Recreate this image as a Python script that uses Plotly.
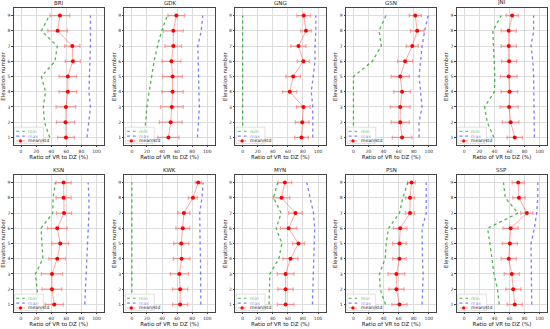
import plotly.graph_objects as go
from plotly.subplots import make_subplots

elevations = [1, 2, 3, 4, 5, 6, 7, 8, 9]
stations = ["BRI", "GDK", "GNG", "GSN", "JNI", "KSN", "KWK", "MYN", "PSN", "SSP"]
x_ticks = [0, 20, 40, 60, 80, 100]

# values listed from elevation 1 to 9
min_BRI = [38, 31, 29.5, 32.5, 27, 45, 48, 27, 37.5]
max_BRI = [87.5, 89.5, 92, 90, 91, 91, 92, 92, 92]
mean_BRI = [59.5, 59, 59.5, 62, 62, 68.7, 68, 48.5, 51.5]
std_BRI = [11, 12, 13, 11.5, 11.5, 10, 10, 13, 13]

min_GDK = [16.5, 18.5, 20, 23, 26, 29.5, 34, 39.5, 47]
max_GDK = [87, 88.5, 89.5, 89, 88.5, 88, 87.5, 92, 94]
mean_GDK = [48.5, 51.5, 53, 54, 54, 52.5, 55, 55, 59]
std_GDK = [14, 15, 15, 14, 13, 12.5, 11, 13, 11]

min_GNG = [0, 0, 0, 0, 0, 0, 0, 0, 0]
max_GNG = [93, 93, 93, 91, 94, 96, 96, 97, 97]
mean_GNG = [78, 79, 80.5, 62.5, 67, 80.5, 74, 84, 81]
std_GNG = [9, 9, 9, 9.5, 9.5, 8, 10, 7, 9]

min_GSN = [0, 0, 0, 0, 0, 25, 37, 34, 43]
max_GSN = [87, 87, 91, 88.5, 87, 89, 91, 94.5, 99]
mean_GSN = [64.5, 62, 62, 64.5, 62, 68.5, 78, 84.5, 82]
std_GSN = [13, 12, 13, 11, 12, 10, 8, 9, 8]

min_JNI = [39.5, 30.5, 27, 40, 40.5, 39.5, 38.5, 38, 49]
max_JNI = [93, 93, 92, 92, 92, 91, 88.5, 92, 92]
mean_JNI = [67, 61.5, 59.5, 60, 59, 59.5, 59, 59, 63.5]
std_JNI = [10, 11, 12, 11, 11, 10, 10, 10, 8]

min_KSN = [23.5, 21, 19, 29, 27.5, 26.5, 42, 42.5, 45.5]
max_KSN = [84.5, 85.5, 86, 87, 88, 89, 90, 90, 89]
mean_KSN = [44, 41, 41, 48, 52, 48, 57, 56.5, 56.5]
std_KSN = [12, 13, 14, 11, 11, 13, 10, 10, 10]

min_KWK = [0, 0, 0, 0, 0, 0, 0, 0, 0]
max_KWK = [91.5, 91.5, 91.5, 91, 90.5, 90, 90, 93, 94.5]
mean_KWK = [64, 64, 63, 66, 65.5, 67.5, 69, 81, 88]
std_KWK = [10, 10, 12, 11, 10, 9, 8, 6, 4]

min_MYN = [35, 35, 36, 48, 52, 44.5, 51, 41, 46.5]
max_MYN = [92.5, 93, 94, 94.5, 95.5, 95.5, 94, 90, 85]
mean_MYN = [57, 57, 57, 63.5, 74, 61, 70, 51.5, 56]
std_MYN = [11, 10, 11, 10, 8, 11, 9, 11, 9]

min_PSN = [42.5, 35.5, 34.5, 42, 43.5, 46.5, 61, 65.5, 72]
max_PSN = [91, 92, 92.5, 91.5, 91, 91, 96.5, 96.5, 96.5]
mean_PSN = [61, 57, 57, 61, 61, 62, 75, 75, 77]
std_PSN = [10, 10, 11, 9, 9, 9, 6, 6, 5]

min_SSP = [46.5, 44, 39.5, 37, 34, 31, 71.5, 54.5, 52]
max_SSP = [89.5, 89.5, 89.5, 88.5, 88.5, 93, 96, 97.5, 97.5]
mean_SSP = [67, 65, 63, 59, 60.5, 61.5, 83, 72.5, 71.5]
std_SSP = [10, 10, 10, 10, 10, 10, 8, 8, 8]

data = {
    "BRI": (min_BRI, max_BRI, mean_BRI, std_BRI),
    "GDK": (min_GDK, max_GDK, mean_GDK, std_GDK),
    "GNG": (min_GNG, max_GNG, mean_GNG, std_GNG),
    "GSN": (min_GSN, max_GSN, mean_GSN, std_GSN),
    "JNI": (min_JNI, max_JNI, mean_JNI, std_JNI),
    "KSN": (min_KSN, max_KSN, mean_KSN, std_KSN),
    "KWK": (min_KWK, max_KWK, mean_KWK, std_KWK),
    "MYN": (min_MYN, max_MYN, mean_MYN, std_MYN),
    "PSN": (min_PSN, max_PSN, mean_PSN, std_PSN),
    "SSP": (min_SSP, max_SSP, mean_SSP, std_SSP),
}

W, H = 550, 329
GREEN = "rgba(20,160,20,0.75)"
BLUE = "rgba(40,40,255,0.6)"
RED_LINE = "rgba(255,0,0,0.35)"
RED = "rgb(255,0,0)"
FONT = "DejaVu Sans"

fig = make_subplots(rows=2, cols=5)

col_left = [13.5, 124.3, 235.1, 345.9, 456.7]
ax_w = 90.5
row_top = [8, 175]
ax_h = 137

for idx, st in enumerate(stations):
    r, c = idx // 5 + 1, idx % 5 + 1
    mn, mx, me, sd = data[st]
    fig.add_trace(go.Scatter(x=mn, y=elevations, mode="lines", name="min",
                             line=dict(color=GREEN, dash="dot", width=1.3),
                             showlegend=False), row=r, col=c)
    fig.add_trace(go.Scatter(x=mx, y=elevations, mode="lines", name="max",
                             line=dict(color=BLUE, dash="dot", width=1.3),
                             showlegend=False), row=r, col=c)
    fig.add_trace(go.Scatter(x=me, y=elevations, mode="lines+markers", name="mean/std",
                             line=dict(color=RED_LINE, width=1),
                             marker=dict(color=RED, size=4, symbol="circle"),
                             error_x=dict(type="data", array=sd, color=RED_LINE,
                                          thickness=1.3, width=2),
                             showlegend=False), row=r, col=c)

    n = idx + 1
    xs = "" if n == 1 else str(n)
    x0 = col_left[c - 1] / W
    x1 = (col_left[c - 1] + ax_w) / W
    y1 = 1 - row_top[r - 1] / H
    y0 = 1 - (row_top[r - 1] + ax_h) / H
    fig.layout[f"xaxis{xs}"].update(
        domain=[x0, x1], range=[-10, 110], tickvals=x_ticks, automargin=False,
        showgrid=True, gridcolor="#dddddd", gridwidth=0.7,
        zeroline=False, showline=True, linecolor="#444444", linewidth=0.7, mirror=True,
        ticks="outside", ticklen=1.5, tickwidth=0.6, tickcolor="#444444",
        tickfont=dict(size=4.5, family=FONT, color="#333333"),
        title=dict(text="Ratio of VR to DZ (%)", standoff=0,
                   font=dict(size=5.5, family=FONT, color="#222222")))
    fig.layout[f"yaxis{xs}"].update(
        domain=[y0, y1], range=[0.5, 9.5], tickvals=elevations, automargin=False,
        showgrid=True, gridcolor="#dddddd", gridwidth=0.7,
        zeroline=False, showline=True, linecolor="#444444", linewidth=0.7, mirror=True,
        ticks="outside", ticklen=1.5, tickwidth=0.6, tickcolor="#444444",
        tickfont=dict(size=4.5, family=FONT, color="#333333"),
        title=dict(text="Elevation number", standoff=1,
                   font=dict(size=5.5, family=FONT, color="#222222")))

    # panel title
    fig.add_annotation(text=st, x=(x0 + x1) / 2, y=y1, xref="paper", yref="paper",
                       xanchor="center", yanchor="bottom", yshift=0, showarrow=False,
                       font=dict(size=5.5, family=FONT, color="#222222"))

    # legend box (manual, in axis-domain coordinates)
    xd, yd = f"x{xs} domain", f"y{xs} domain"
    fig.add_shape(type="rect", xref=xd, yref=yd, x0=0.012, x1=0.33, y0=0.012, y1=0.13,
                  fillcolor="rgba(255,255,255,0.85)", line=dict(color="#cccccc", width=0.6),
                  layer="above")
    entries = [(0.10, "min", GREEN, "dot", GREEN),
               (0.065, "max", BLUE, "dot", BLUE),
               (0.03, "mean/std", RED_LINE, "solid", "#222222")]
    for yy, lab, colr, dash, tcol in entries:
        fig.add_shape(type="line", xref=xd, yref=yd, x0=0.03, x1=0.125, y0=yy, y1=yy,
                      line=dict(color=colr, dash=dash, width=1.1), layer="above")
        fig.add_annotation(text=lab, xref=xd, yref=yd, x=0.14, y=yy, xanchor="left",
                           yanchor="middle", showarrow=False,
                           font=dict(size=4.5, family=FONT, color=tcol))
    fig.add_shape(type="circle", xref=xd, yref=yd,
                  x0=0.0775 - 1.6 / ax_w, x1=0.0775 + 1.6 / ax_w,
                  y0=0.03 - 1.6 / ax_h, y1=0.03 + 1.6 / ax_h,
                  fillcolor=RED, line=dict(width=0), layer="above")

fig.update_layout(width=W, height=H, autosize=False,
                  margin=dict(l=0, r=0, t=0, b=0),
                  paper_bgcolor="white", plot_bgcolor="white",
                  font=dict(family=FONT), showlegend=False)

fig.write_html("out.html", config={"displayModeBar": False},
               post_script="document.body.style.margin='0';document.body.style.overflow='hidden';")
